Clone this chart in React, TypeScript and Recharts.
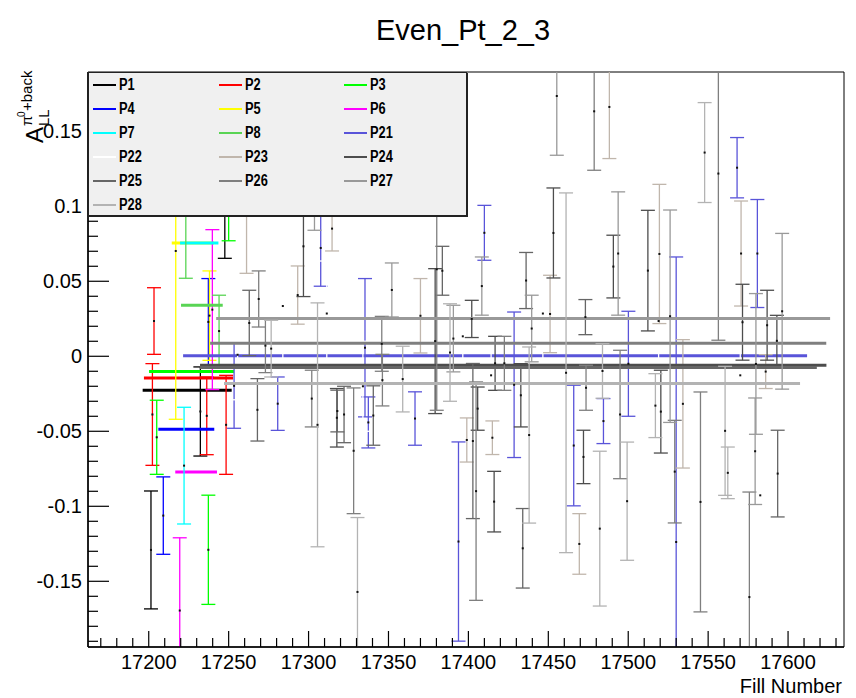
import React from "react";
import { ComposedChart, Scatter, ErrorBar, Line, XAxis, YAxis, ReferenceArea, Legend } from "recharts";

// each point: [fill number, asymmetry, error]
type Pt = [number, number, number];

const P1: Pt[] = [
  [17201.4, -0.1291, 0.0393],
  [17232.3, -0.0368, 0.0297],
  [17247.6, 0.1, 0.0347],
];
const P2: Pt[] = [
  [17202.3, -0.0388, 0.0339],
  [17203.3, 0.0235, 0.0222],
  [17236.3, -0.0397, 0.0259],
  [17248.4, -0.0457, 0.033],
];
const P3: Pt[] = [
  [17205, -0.054, 0.0247],
  [17237.3, -0.129, 0.0364],
  [17250, 0.104, 0.027],
];
const P4: Pt[] = [
  [17209.1, -0.1062, 0.0258],
  [17237.3, 0.0229, 0.0289],
];
const P5: Pt[] = [
  [17216.9, 0.0702, 0.1122],
  [17238, 0.0271, 0.0298],
];
const P6: Pt[] = [
  [17219.4, -0.1695, 0.0485],
  [17239.8, 0.0311, 0.0533],
];
const P7: Pt[] = [[17222.1, -0.0729, 0.0389]];
const P8: Pt[] = [
  [17223.2, 0.104, 0.052],
  [17244, 0.0168, 0.0239],
];
const P21: Pt[] = [
  [17253.4, -0.0197, 0.0283],
  [17280.7, -0.0316, 0.0178],
  [17307.6, 0.0722, 0.0255],
  [17335.3, 0.0057, 0.0461],
  [17337.4, -0.0441, 0.017],
  [17366.6, -0.0415, 0.0178],
  [17393.8, -0.1235, 0.0664],
  [17410, 0.0823, 0.0183],
  [17428.6, -0.019, 0.0485],
  [17465.9, -0.0595, 0.0402],
  [17484.5, -0.0432, 0.015],
  [17500.1, -0.005, 0.035],
  [17530, -0.1238, 0.19],
  [17568.1, 0.1257, 0.0201],
  [17580.8, 0.0685, 0.036],
];
const P22: Pt[] = [
  [17255.6, 0.001, 0.03],
  [17283.9, 0.0335, 0.04],
  [17311.4, 0.0285, 0.035],
  [17334, -0.02, 0.03],
  [17396.5, 0.0133, 0.025],
  [17414.2, -0.0127, 0.03],
  [17446.6, 0.0285, 0.03],
  [17519, 0.0235, 0.03],
  [17570.1, -0.0127, 0.03],
  [17582.6, -0.0927, 0.025],
];
const P23: Pt[] = [
  [17261.2, 0.12, 0.0647],
  [17293.2, 0.0408, 0.0194],
  [17314.7, 0.0851, 0.0149],
  [17370, 0.027, 0.0248],
  [17399, -0.0558, 0.0147],
  [17415, -0.0543, 0.0112],
  [17451.1, 0.0282, 0.0258],
  [17469.4, -0.1251, 0.0202],
  [17488.2, 0.1662, 0.0344],
  [17519.5, 0.0682, 0.0464],
  [17534.2, -0.0317, 0.0428],
  [17570.6, 0.0685, 0.035],
  [17586, -0.0102, 0.0113],
];
const P24: Pt[] = [
  [17296.8, 0.0733, 0.0335],
  [17317.7, -0.041, 0.0195],
  [17379.2, 0.0101, 0.0483],
  [17402.1, 0.0249, 0.0124],
  [17405.8, -0.0349, 0.0144],
  [17416.1, -0.0969, 0.0202],
  [17416.7, -0.0047, 0.018],
  [17432.8, -0.026, 0.0211],
  [17453.2, 0.0822, 0.03],
  [17472, -0.0671, 0.0178],
  [17490.7, 0.0598, 0.0209],
  [17512.3, 0.0571, 0.0402],
  [17520.4, -0.0369, 0.0276],
  [17571.5, 0.0227, 0.0253],
  [17586.9, 0.0207, 0.0233],
  [17593, 0.0103, 0.017],
];
const P25: Pt[] = [
  [17262.9, 0.0222, 0.0218],
  [17268, -0.0357, 0.0208],
  [17318, -0.0365, 0.0139],
  [17322.2, -0.0388, 0.0188],
  [17340.5, -0.0395, 0.0198],
  [17383.7, 0.057, 0.0163],
  [17402.8, -0.0565, 0.0517],
  [17434, -0.128, 0.0265],
  [17436.1, 0.0505, 0.0187],
  [17473.2, 0.0261, 0.0117],
  [17593.5, -0.0782, 0.0289],
];
const P26: Pt[] = [
  [17268.8, 0.0382, 0.0187],
  [17273, 0.0071, 0.018],
  [17302, -0.0282, 0.0189],
  [17328.2, -0.063, 0.0419],
  [17345.8, 0.0083, 0.0183],
  [17346.2, -0.0159, 0.0172],
  [17380.2, 0.058, 0.094],
  [17404.8, -0.0899, 0.0728],
  [17422.5, -0.0047, 0.018],
  [17473.6, -0.021, 0.015],
  [17478.7, 0.1633, 0.0393],
  [17494.9, -0.0388, 0.0428],
  [17529.1, -0.0769, 0.0342],
  [17545.2, -0.0971, 0.0733],
  [17556.4, 0.1218, 0.1111],
  [17575.8, -0.1605, 0.07],
];
const P27: Pt[] = [
  [17303.7, 0.12, 0.036],
  [17352.1, 0.0442, 0.018],
  [17390.6, 0.0118, 0.0222],
  [17408.4, 0.0468, 0.0194],
  [17439.6, 0.0185, 0.0222],
  [17455.3, 0.1735, 0.0395],
  [17493.7, 0.0685, 0.0411],
  [17526.2, 0.0267, 0.0708],
  [17579.4, -0.0633, 0.0355],
  [17579.9, -0.0051, 0.0469],
  [17596.3, 0.03, 0.0519],
];
const P28: Pt[] = [
  [17276.6, 0.0051, 0.0189],
  [17305.6, -0.0457, 0.0813],
  [17330.6, -0.1571, 0.0496],
  [17358.9, -0.0152, 0.0219],
  [17388.5, 0.0025, 0.0325],
  [17438, -0.0525, 0.0587],
  [17461.1, -0.011, 0.1199],
  [17482.2, -0.1149, 0.0516],
  [17483.9, -0.0098, 0.0182],
  [17499.3, -0.0966, 0.0394],
  [17517, -0.0329, 0.0213],
  [17547.8, 0.1358, 0.0333],
  [17560.6, -0.0497, 0.043],
  [17562.3, -0.0777, 0.0172],
];

const seriesNames = ["P1", "P2", "P3", "P4", "P5", "P6", "P7", "P8", "P21", "P22", "P23", "P24", "P25", "P26", "P27", "P28"];
const seriesPoints = [P1, P2, P3, P4, P5, P6, P7, P8, P21, P22, P23, P24, P25, P26, P27, P28];

// constant fits: level and fill range for each period (P22 has none drawn)
const fitLevel = [-0.0227, -0.0145, -0.0102, -0.0487, 0.0755, -0.0771, 0.0755, 0.034, 0.0003, null, -0.0068, -0.006, -0.0075, 0.0087, 0.0251, -0.0182];
const fitFrom = [17196.2, 17197, 17200.2, 17206, 17214.4, 17216.6, 17219.6, 17220.2, 17221.5, null, 17234, 17232.1, 17232, 17238.4, 17242.2, 17247.1];
const fitTo = [17251.9, 17252.8, 17253.4, 17241, 17240.9, 17242.7, 17243.6, 17246.3, 17611.9, null, 17617, 17624, 17618, 17623.9, 17626.3, 17607.5];

const xMajorTicks = [17200, 17250, 17300, 17350, 17400, 17450, 17500, 17550, 17600];
const yMajorTicks = [-0.15, -0.1, -0.05, 0, 0.05, 0.1, 0.15];
const yTickLabels = ["-0.15", "-0.1", "-0.05", "0", "0.05", "0.1", "0.15"];

// ROOT palette 1..8 and 9..16
const colors = ["#000000", "#ff0000", "#00ff00", "#0000ff", "#ffff00", "#ff00ff", "#00ffff", "#59d454", "#5954d9", "#ffffff", "#c0b6ac", "#4d4d4d", "#666666", "#7f7f7f", "#999999", "#b3b3b3"];

const X_DOMAIN: [number, number] = [17162, 17635];
const Y_DOMAIN: [number, number] = [-0.1938, 0.1895];
const FONT = "'Liberation Sans', Arial, Helvetica, sans-serif";

// plot frame in pixels, used to clip the error bars
const FRAME = { x: 88, y: 72, w: 756, h: 575 };

const xTicks: number[] = [];
for (let v = 17170; v <= 17630; v += 10) xTicks.push(v);
const yTicks: number[] = [];
for (let i = -19; i <= 18; i++) yTicks.push(i / 100);

function XTick(props: any) {
  const { x, y, payload } = props;
  const v = payload.value;
  const major = xMajorTicks.includes(v);
  return (
    <g>
      <line x1={x} x2={x} y1={y} y2={y - (major ? 16 : 9)} stroke="#000" strokeWidth={1.2} />
      {major && (
        <text x={x} y={y + 22} textAnchor="middle" fontSize={20} fontFamily={FONT} fill="#000">
          {v}
        </text>
      )}
    </g>
  );
}

function YTick(props: any) {
  const { x, y, payload } = props;
  const idx = yMajorTicks.findIndex((t) => Math.abs(t - payload.value) < 1e-6);
  const major = idx >= 0;
  return (
    <g>
      <line x1={x} x2={x + (major ? 21 : 10)} y1={y} y2={y} stroke="#000" strokeWidth={1.2} />
      {major && (
        <text x={x - 6} y={y} dy="0.36em" textAnchor="end" fontSize={20} fontFamily={FONT} fill="#000">
          {yTickLabels[idx]}
        </text>
      )}
    </g>
  );
}

function Marker(props: any) {
  const { cx, cy } = props;
  if (cx == null || cy == null) return <g />;
  return <rect x={cx - 1} y={cy - 1} width={2} height={2} fill="#111" />;
}

function LegendBox() {
  return (
    <div
      style={{
        position: "relative",
        width: 379,
        height: 144,
        boxSizing: "border-box",
        background: "#f0f0f0",
        border: "1px solid #222",
        boxShadow: "1px 1px 0 #222",
        fontFamily: FONT,
      }}
    >
      {seriesNames.map((name, i) => {
        const col = i % 3;
        const row = Math.floor(i / 3);
        const left = 4 + col * 125.5;
        const top = 12 + row * 23.9;
        return (
          <div key={name}>
            <div
              style={{
                position: "absolute",
                left,
                top: top - 1,
                width: 23,
                height: 2,
                background: colors[i],
              }}
            />
            <div
              style={{
                position: "absolute",
                left: left + 26,
                top: top - 10,
                fontSize: 16,
                fontWeight: 700,
                lineHeight: "20px",
                color: "#000",
                transform: "scaleX(0.8)",
                transformOrigin: "left center",
                whiteSpace: "nowrap",
              }}
            >
              {name}
            </div>
          </div>
        );
      })}
    </div>
  );
}

export default function App() {
  const items = seriesNames.flatMap((name, i) => {
    const data = seriesPoints[i].map(([x, y, e]) => ({ x, y, e }));
    const out = [
      <Scatter key={name} name={name} data={data} fill="#111" shape={Marker} isAnimationActive={false} legendType="none">
        <ErrorBar dataKey="e" direction="y" width={7} stroke={colors[i]} strokeWidth={1.3} isAnimationActive={false} />
      </Scatter>,
    ];
    const lvl = fitLevel[i];
    if (lvl !== null) {
      out.push(
        <Line
          key={name + "-fit"}
          data={[
            { x: fitFrom[i], y: lvl },
            { x: fitTo[i], y: lvl },
          ]}
          dataKey="y"
          stroke={colors[i]}
          strokeWidth={3}
          dot={false}
          activeDot={false}
          legendType="none"
          isAnimationActive={false}
        />
      );
    }
    return out;
  });

  return (
    <div style={{ position: "absolute", left: 0, top: 0, width: 856, height: 698, background: "#fff" }}>
      <ComposedChart width={856} height={698} margin={{ top: 72, right: 12, left: 0, bottom: 0 }}>
        <defs>
          <clipPath id="frame-clip">
            <rect x={FRAME.x} y={FRAME.y} width={FRAME.w} height={FRAME.h} />
          </clipPath>
        </defs>
        <style>{`.recharts-errorBars, .recharts-errorBar { clip-path: url(#frame-clip); }`}</style>
        <XAxis
          type="number"
          dataKey="x"
          domain={X_DOMAIN}
          allowDataOverflow
          ticks={xTicks}
          interval={0}
          tickSize={0}
          tickMargin={0}
          tickLine={false}
          tick={XTick}
          height={51}
          axisLine={{ stroke: "#000", strokeWidth: 1.5 }}
        />
        <YAxis
          type="number"
          dataKey="y"
          domain={Y_DOMAIN}
          allowDataOverflow
          ticks={yTicks}
          interval={0}
          tickSize={0}
          tickMargin={0}
          tickLine={false}
          tick={YTick}
          width={88}
          axisLine={{ stroke: "#000", strokeWidth: 1.5 }}
        />
        <ReferenceArea
          x1={X_DOMAIN[0]}
          x2={X_DOMAIN[1]}
          y1={Y_DOMAIN[0]}
          y2={Y_DOMAIN[1]}
          fill="none"
          stroke="#000"
          strokeWidth={1}
        />
        {items}
        <Legend
          layout="vertical"
          align="center"
          verticalAlign="middle"
          wrapperStyle={{ position: "absolute", left: 88, top: 72, width: 379, height: 144 }}
          content={() => <LegendBox />}
        />
        <text x={463} y={40} textAnchor="middle" fontSize={29} fontFamily={FONT} fill="#000">
          Even_Pt_2_3
        </text>
        <text x={842} y={693} textAnchor="end" fontSize={20} fontFamily={FONT} fill="#000">
          Fill Number
        </text>
        <g transform="translate(43, 143) rotate(-90)" fontFamily={FONT} fill="#000">
          <text x={0} y={0} fontSize={24}>A</text>
          <text x={17} y={6} fontSize={15}>LL</text>
          <text x={17} y={-11} fontSize={15}>π</text>
          <text x={26} y={-18} fontSize={10}>0</text>
          <text x={32} y={-11} fontSize={15}>+back</text>
        </g>
      </ComposedChart>
    </div>
  );
}
